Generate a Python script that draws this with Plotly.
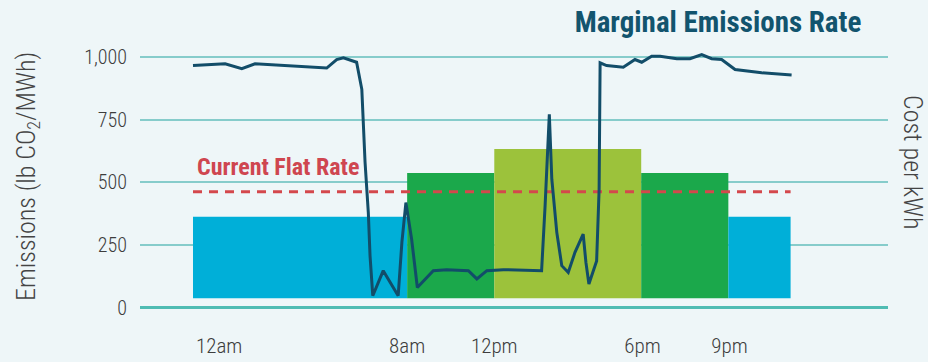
import plotly.graph_objects as go

# Time-of-use tariff periods: hour edges and cost per kWh (cents)
period_edges = [0.0, 8.6, 12.1, 18.0, 21.5, 24.0]
period_cost = [8.2, 12.6, 15.0, 12.6, 8.2]
flat_rate = 10.7

# Marginal emissions rate over the day (lb CO2 / MWh)
hours = [0.00, 1.29, 1.96, 2.49, 5.37, 5.77, 6.04, 6.57, 6.78, 6.91, 7.04, 7.11,
         7.22, 7.64, 8.24, 8.39, 8.55, 8.78, 9.01, 9.65, 10.19, 11.06, 11.40,
         11.80, 12.46, 14.00, 14.14, 14.31, 14.41, 14.61, 14.81, 15.07, 15.34,
         15.67, 15.78, 15.90, 16.21, 16.31, 16.35, 16.61, 17.28, 17.75, 18.02,
         18.42, 18.76, 19.43, 19.96, 20.43, 20.83, 21.23, 21.77, 22.24, 22.84,
         24.04]
emissions = [966, 973, 953, 973, 956, 990, 997, 979, 871, 580, 380, 206,
             47, 147, 47, 261, 419, 273, 80, 147, 151, 147, 114,
             147, 151, 147, 406, 771, 512, 300, 167, 140, 220,
             293, 180, 94, 186, 472, 977, 966, 959, 990, 979,
             1003, 1003, 993, 993, 1010, 993, 990, 950, 943, 937,
             928]

tick_hours = [1.05, 8.6, 12.1, 18.05, 21.55]
tick_labels = ["12am", "8am", "12pm", "6pm", "9pm"]

period_colors = ["#00afd8", "#1ba84b", "#9cc23b", "#1ba84b", "#00afd8"]

BG = "#eef6f8"
FONT = "Roboto Condensed, Liberation Sans Narrow, Roboto, sans-serif"

# plot-area geometry (px) used to align the two value scales
W, H = 928, 362
L, R, T, B = 140, 888, 40, 316
x0_px, x_px_per_h = 193.0, 24.9
y1_zero_px, y1_px_per_unit = 307.5, 0.2505
y2_zero_px, y2_px_per_unit = 298.3, 9.953

x_range = [(L - x0_px) / x_px_per_h, (R - x0_px) / x_px_per_h]
y1_range = [-(B - y1_zero_px) / y1_px_per_unit, (y1_zero_px - T) / y1_px_per_unit]
y2_range = [-(B - y2_zero_px) / y2_px_per_unit, (y2_zero_px - T) / y2_px_per_unit]

mids = [(a + b) / 2 for a, b in zip(period_edges[:-1], period_edges[1:])]
widths = [b - a for a, b in zip(period_edges[:-1], period_edges[1:])]

fig = go.Figure()

fig.add_trace(go.Bar(
    x=mids, y=period_cost, width=widths,
    marker=dict(color=period_colors, line=dict(width=0)),
    xaxis="x", yaxis="y", showlegend=False, hoverinfo="skip",
))

fig.add_trace(go.Scatter(
    x=[period_edges[0], period_edges[-1]], y=[flat_rate, flat_rate],
    mode="lines", line=dict(color="#d4484c", width=3, dash="9px,7px"),
    xaxis="x", yaxis="y", showlegend=False, hoverinfo="skip",
))

fig.add_trace(go.Scatter(
    x=hours, y=emissions, mode="lines",
    line=dict(color="#124d69", width=3),
    xaxis="x", yaxis="y2", showlegend=False,
))

fig.update_layout(
    width=W, height=H,
    margin=dict(l=L, r=W - R, t=T, b=H - B, pad=0, autoexpand=False),
    paper_bgcolor=BG, plot_bgcolor=BG,
    font=dict(family=FONT, color="#3d3d3d"),
    title=dict(
        text="<b>Marginal Emissions Rate</b>",
        x=718 / W, xanchor="center", y=1 - 22 / H, yanchor="middle",
        font=dict(family=FONT, size=29, color="#12546e"),
    ),
    xaxis=dict(
        range=x_range, showgrid=False, zeroline=False, showline=False,
        tickmode="array", tickvals=tick_hours, ticktext=tick_labels,
        ticks="", ticklabelstandoff=15, automargin=False,
        tickfont=dict(size=21, color="#3d3d3d", weight=300),
    ),
    yaxis=dict(
        range=y2_range, side="right", showgrid=False, zeroline=False,
        showline=False, showticklabels=False, ticks="", automargin=False,
    ),
    yaxis2=dict(
        range=y1_range, overlaying="y", side="left",
        tickmode="array", tickvals=[0, 250, 500, 750, 1000],
        tickformat=",d", ticks="", ticklabelstandoff=12, automargin=False,
        tickfont=dict(size=20, color="#3d3d3d", weight=300),
        showgrid=True, gridcolor="#86cccb", gridwidth=1.5,
        zeroline=True, zerolinecolor="#4fbcb3", zerolinewidth=3,
        showline=False,
    ),
    annotations=[
        dict(
            text="<b>Current Flat Rate</b>", xref="x", yref="y",
            x=period_edges[0], y=flat_rate, xanchor="left", yanchor="bottom",
            xshift=2, yshift=9, showarrow=False,
            font=dict(family=FONT, size=24, color="#cf4650"),
        ),
        dict(
            text="Emissions (lb CO<sub>2</sub>/MWh)", xref="paper", yref="paper",
            x=(27 - L) / (R - L), y=(B - 177) / (B - T),
            xanchor="center", yanchor="middle", textangle=-90, showarrow=False,
            font=dict(family=FONT, size=26, color="#444444", weight=300),
        ),
        dict(
            text="Cost per kWh", xref="paper", yref="paper",
            x=(913 - L) / (R - L), y=(B - 162) / (B - T),
            xanchor="center", yanchor="middle", textangle=90, showarrow=False,
            font=dict(family=FONT, size=26, color="#444444", weight=300),
        ),
    ],
)

fig.write_html("out.html")
